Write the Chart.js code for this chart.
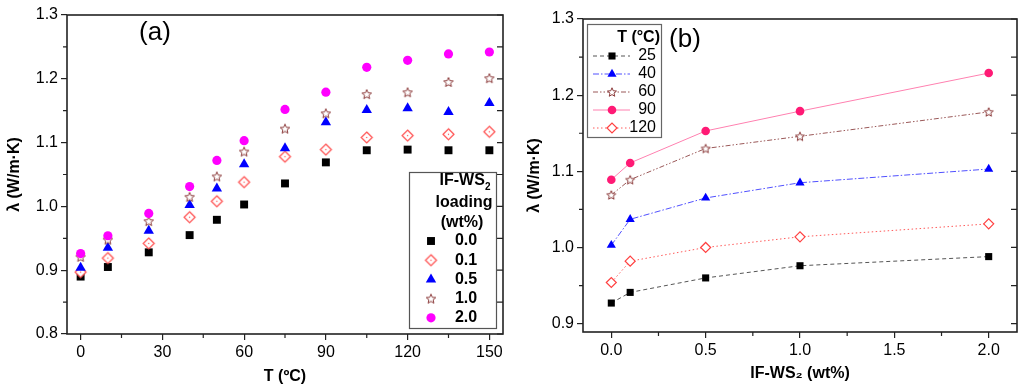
<!DOCTYPE html>
<html>
<head>
<meta charset="utf-8">
<script src="https://cdn.jsdelivr.net/npm/chart.js@4/dist/chart.umd.min.js"></script>
<style>
  html, body { margin: 0; padding: 0; background: #fff; }
  #wrap { position: relative; width: 1024px; height: 389px; }
  .panel { position: absolute; top: 0; height: 389px; }
</style>
</head>
<body>
<div id="wrap">
  <div class="panel" style="left:0;width:520px"><canvas id="chartA" width="520" height="389"></canvas></div>
  <div class="panel" style="left:520px;width:504px"><canvas id="chartB" width="504" height="389"></canvas></div>
</div>
<script>
// (a) conductivity vs temperature, one series per IF-WS2 loading
const tempsA = [0, 10, 25, 40, 50, 60, 75, 90, 105, 120, 135, 150];
const loadingLabels = ['0.0', '0.1', '0.5', '1.0', '2.0'];
const lambdaA00 = [0.890, 0.905, 0.928, 0.955, 0.979, 1.003, 1.036, 1.069, 1.088, 1.089, 1.088, 1.088];
const lambdaA01 = [0.897, 0.919, 0.942, 0.983, 1.008, 1.038, 1.078, 1.089, 1.108, 1.111, 1.113, 1.117];
const lambdaA05 = [0.904, 0.935, 0.962, 1.002, 1.028, 1.066, 1.091, 1.132, 1.151, 1.154, 1.148, 1.162];
const lambdaA10 = [0.921, 0.948, 0.977, 1.015, 1.047, 1.086, 1.122, 1.146, 1.176, 1.179, 1.195, 1.201];
const lambdaA20 = [0.926, 0.954, 0.989, 1.031, 1.072, 1.103, 1.152, 1.179, 1.218, 1.229, 1.239, 1.242];

// (b) conductivity vs loading, one series per temperature
const loadingsB = [0, 0.1, 0.5, 1.0, 2.0];
const tempLabels = ['25', '40', '60', '90', '120'];
const lambdaB25 = [0.927, 0.941, 0.960, 0.976, 0.988];
const lambdaB40 = [1.003, 1.037, 1.065, 1.085, 1.103];
const lambdaB60 = [1.069, 1.089, 1.130, 1.146, 1.178];
const lambdaB90 = [1.089, 1.111, 1.153, 1.179, 1.229];
const lambdaB120 = [0.954, 0.982, 1.000, 1.014, 1.031];

// tick values
const xTicksA = [0, 30, 60, 90, 120, 150];
const xMinorA = [15, 45, 75, 105, 135];
const yTicksA = [0.8, 0.9, 1.0, 1.1, 1.2, 1.3];
const yMinorA = [0.85, 0.95, 1.05, 1.15, 1.25];
const xTicksB = [0, 0.5, 1.0, 1.5, 2.0];
const xMinorB = [0.25, 0.75, 1.25, 1.75];
const yTicksB = [0.9, 1.0, 1.1, 1.2, 1.3];
const yMinorB = [0.95, 1.05, 1.15, 1.25];

const FONT = '"Liberation Sans", Arial, sans-serif';
Chart.defaults.font.family = FONT;
Chart.defaults.font.size = 16;
Chart.defaults.color = '#000';

const pts = (xs, ys) => xs.map((x, i) => ({ x, y: ys[i] }));

// open star / dotted diamond markers like the original plot
function makeStar(r, color) {
  const c = document.createElement('canvas');
  const s = Math.ceil(r * 2 + 4);
  c.width = c.height = s;
  const g = c.getContext('2d');
  g.translate(s / 2, s / 2 + r * 0.1);
  g.beginPath();
  for (let k = 0; k < 10; k++) {
    const rr = k % 2 ? r * 0.45 : r;
    const ang = -Math.PI / 2 + k * Math.PI / 5;
    g.lineTo(rr * Math.cos(ang), rr * Math.sin(ang));
  }
  g.closePath();
  g.fillStyle = '#fff';
  g.fill();
  g.strokeStyle = color;
  g.lineWidth = 1;
  g.stroke();
  return c;
}

function makeDiamond(r, color) {
  const c = document.createElement('canvas');
  const s = Math.ceil(r * 2 + 4);
  c.width = c.height = s;
  const g = c.getContext('2d');
  g.translate(s / 2, s / 2);
  g.beginPath();
  g.moveTo(0, -r); g.lineTo(r, 0); g.lineTo(0, r); g.lineTo(-r, 0);
  g.closePath();
  g.fillStyle = '#fff';
  g.fill();
  g.strokeStyle = color;
  g.lineWidth = 1.2;
  g.stroke();
  g.fillStyle = color;
  g.fillRect(-0.6, -0.6, 1.2, 1.2);
  return c;
}

const starA = makeStar(5, '#8B3A3A');
const diamondA = makeDiamond(5.5, '#FF4D4D');
const starB = makeStar(4.7, '#8B3A3A');

// frame + minor ticks + mirrored inward ticks on the right side
const framePlugin = {
  id: 'frame',
  afterDraw(chart, args, opts) {
    const { ctx, chartArea: a, scales: { x, y } } = chart;
    ctx.save();
    ctx.strokeStyle = '#222';
    ctx.lineWidth = 1.6;
    ctx.strokeRect(a.left, a.top, a.right - a.left, a.bottom - a.top);
    ctx.lineWidth = 1.2;
    ctx.beginPath();
    opts.yMinor.forEach(v => {
      const p = y.getPixelForValue(v);
      ctx.moveTo(a.left - 4, p); ctx.lineTo(a.left, p);
    });
    opts.yMinor.concat(opts.yMajor).forEach(v => {
      const p = y.getPixelForValue(v);
      ctx.moveTo(a.right - 6, p); ctx.lineTo(a.right, p);
    });
    opts.xMinor.forEach(v => {
      const p = x.getPixelForValue(v);
      ctx.moveTo(p, a.bottom); ctx.lineTo(p, a.bottom + 4);
    });
    ctx.stroke();
    if (opts.tag) {
      ctx.fillStyle = '#000';
      ctx.font = '26px ' + FONT;
      ctx.textAlign = 'center';
      ctx.textBaseline = 'middle';
      ctx.fillText(opts.tag, opts.tagX, opts.tagY);
    }
    ctx.restore();
  }
};

function drawMarker(ctx, ds, x, y) {
  ctx.fillStyle = ds.pointBackgroundColor;
  ctx.strokeStyle = ds.pointBorderColor;
  ctx.lineWidth = ds.pointBorderWidth;
  Chart.helpers.drawPoint(ctx, { pointStyle: ds.pointStyle, radius: ds.pointRadius, rotation: 0, borderWidth: ds.pointBorderWidth }, x, y);
}

const legendA = {
  id: 'legendA',
  afterDraw(chart) {
    const ctx = chart.ctx;
    ctx.save();
    ctx.strokeStyle = '#555';
    ctx.lineWidth = 1.2;
    ctx.strokeRect(409.5, 172.5, 87, 156);
    ctx.fillStyle = '#000';
    ctx.textBaseline = 'middle';
    ctx.font = 'bold 16px ' + FONT;
    const w1 = ctx.measureText('IF-WS').width;
    ctx.font = 'bold 10px ' + FONT;
    const w2 = ctx.measureText('2').width;
    const x0 = 465 - (w1 + w2) / 2;
    ctx.textAlign = 'left';
    ctx.font = 'bold 16px ' + FONT;
    ctx.fillText('IF-WS', x0, 181);
    ctx.font = 'bold 10px ' + FONT;
    ctx.fillText('2', x0 + w1, 187);
    ctx.font = 'bold 16px ' + FONT;
    ctx.textAlign = 'center';
    ctx.fillText('loading', 464, 203);
    ctx.fillText('(wt%)', 462, 223);
    chart.data.datasets.forEach((ds, i) => {
      const y = 241 + i * 19.2;
      drawMarker(ctx, ds, 431, y);
      ctx.fillStyle = '#000';
      ctx.fillText(ds.label, 466, y);
    });
    ctx.restore();
  }
};

const legendB = {
  id: 'legendB',
  afterDraw(chart) {
    const ctx = chart.ctx;
    ctx.save();
    ctx.strokeStyle = '#666';
    ctx.lineWidth = 1.2;
    ctx.strokeRect(67.5, 24.5, 74, 113);
    ctx.fillStyle = '#000';
    ctx.textBaseline = 'middle';
    ctx.textAlign = 'right';
    ctx.font = 'bold 16px ' + FONT;
    ctx.fillText('T (°C)', 140, 38);
    ctx.font = '16px ' + FONT;
    chart.data.datasets.forEach((ds, i) => {
      const y = 56 + i * 18;
      ctx.strokeStyle = ds.borderColor;
      ctx.lineWidth = ds.borderWidth;
      ctx.setLineDash(ds.borderDash || []);
      ctx.beginPath();
      ctx.moveTo(73, y); ctx.lineTo(110, y);
      ctx.stroke();
      ctx.setLineDash([]);
      drawMarker(ctx, ds, 92, y);
      ctx.fillStyle = '#000';
      ctx.fillText(ds.label, 136, y);
    });
    ctx.restore();
  }
};

const axisCommon = (fixed, horizontal) => ({
  type: 'linear',
  grid: { drawOnChartArea: false, drawTicks: true, tickLength: 6, color: '#222', lineWidth: 1.2 },
  border: { display: false },
  ticks: { autoSkip: false, maxRotation: 0, padding: 3, font: { size: 16 } },
  afterFit: s => { if (horizontal) s.height = fixed; else s.width = fixed; }
});

const seriesA = [lambdaA00, lambdaA01, lambdaA05, lambdaA10, lambdaA20];
const styleA = [
  { pointStyle: 'rect', pointRadius: 5.6, pointBackgroundColor: '#000', pointBorderColor: '#000', pointBorderWidth: 0 },
  { pointStyle: diamondA, pointRadius: 5.5, pointBackgroundColor: '#fff', pointBorderColor: '#FF4D4D', pointBorderWidth: 1.2 },
  { pointStyle: 'triangle', pointRadius: 6, pointBackgroundColor: '#0000FF', pointBorderColor: '#0000FF', pointBorderWidth: 0 },
  { pointStyle: starA, pointRadius: 5, pointBackgroundColor: '#fff', pointBorderColor: '#8B3A3A', pointBorderWidth: 1 },
  { pointStyle: 'circle', pointRadius: 4.6, pointBackgroundColor: '#FF00FF', pointBorderColor: '#FF00FF', pointBorderWidth: 0 }
];

new Chart(document.getElementById('chartA'), {
  type: 'scatter',
  data: {
    datasets: seriesA.map((ys, i) => Object.assign({
      label: loadingLabels[i],
      data: pts(tempsA, ys),
      showLine: false,
      order: -i,
      pointHoverRadius: styleA[i].pointRadius
    }, styleA[i]))
  },
  options: {
    responsive: false,
    animation: false,
    layout: { padding: { left: 0, top: 15, right: 17, bottom: 0 } },
    plugins: {
      legend: { display: false },
      tooltip: { enabled: false },
      frame: { xMinor: xMinorA, yMinor: yMinorA, yMajor: yTicksA, tag: '(a)', tagX: 155, tagY: 33 }
    },
    scales: {
      x: Object.assign(axisCommon(55, true), {
        min: -5, max: 155,
        afterBuildTicks: s => { s.ticks = xTicksA.map(v => ({ value: v })); },
        title: { display: true, text: 'T (ºC)', font: { size: 16, weight: 'bold' }, padding: 3 }
      }),
      y: Object.assign(axisCommon(67, false), {
        min: 0.8, max: 1.3,
        afterBuildTicks: s => { s.ticks = yTicksA.map(v => ({ value: v })); },
        title: { display: true, text: 'λ (W/m·K)', font: { size: 16, weight: 'bold' }, padding: 5 }
      })
    }
  },
  plugins: [framePlugin, legendA]
});
// tick label formats
Chart.getChart('chartA').options.scales.y.ticks.callback = v => v.toFixed(1);
Chart.getChart('chartA').update();

const seriesB = [lambdaB25, lambdaB40, lambdaB60, lambdaB90, lambdaB120];
const styleB = [
  { borderColor: '#555', borderDash: [4, 3], pointStyle: 'rect', pointRadius: 5, pointBackgroundColor: '#000', pointBorderColor: '#000', pointBorderWidth: 0 },
  { borderColor: '#5050FF', borderDash: [6, 2, 1.5, 2], pointStyle: 'triangle', pointRadius: 5.3, pointBackgroundColor: '#0000FF', pointBorderColor: '#0000FF', pointBorderWidth: 0 },
  { borderColor: '#9A5858', borderDash: [5, 2, 1.5, 2, 1.5, 2], pointStyle: starB, pointRadius: 4.7, pointBackgroundColor: '#fff', pointBorderColor: '#8B3A3A', pointBorderWidth: 1 },
  { borderColor: '#FF80B0', borderDash: [], pointStyle: 'circle', pointRadius: 4.3, pointBackgroundColor: '#FF1A75', pointBorderColor: '#FF1A75', pointBorderWidth: 0 },
  { borderColor: '#FF5A5A', borderDash: [1.5, 2.5], pointStyle: 'rectRot', pointRadius: 5, pointBackgroundColor: '#fff', pointBorderColor: '#FF4040', pointBorderWidth: 1.2 }
];

new Chart(document.getElementById('chartB'), {
  type: 'scatter',
  data: {
    datasets: seriesB.map((ys, i) => Object.assign({
      label: tempLabels[i],
      data: pts(loadingsB, ys),
      showLine: true,
      borderWidth: 1,
      tension: 0,
      order: -i
    }, styleB[i]))
  },
  options: {
    responsive: false,
    animation: false,
    layout: { padding: { left: 0, top: 19, right: 7, bottom: 0 } },
    plugins: {
      legend: { display: false },
      tooltip: { enabled: false },
      frame: { xMinor: xMinorB, yMinor: yMinorB, yMajor: yTicksB, tag: '(b)', tagX: 165, tagY: 40 }
    },
    scales: {
      x: Object.assign(axisCommon(57, true), {
        min: -0.15, max: 2.15,
        afterBuildTicks: s => { s.ticks = xTicksB.map(v => ({ value: v })); },
        title: { display: true, text: 'IF-WS₂ (wt%)', font: { size: 16, weight: 'bold' }, padding: 6 }
      }),
      y: Object.assign(axisCommon(63, false), {
        min: 0.889, max: 1.3,
        afterBuildTicks: s => { s.ticks = yTicksB.map(v => ({ value: v })); },
        title: { display: true, text: 'λ (W/m·K)', font: { size: 16, weight: 'bold' }, padding: 5 }
      })
    }
  },
  plugins: [framePlugin, legendB]
});
const chartB = Chart.getChart('chartB');
chartB.options.scales.x.ticks.callback = v => v.toFixed(1);
chartB.options.scales.y.ticks.callback = v => v.toFixed(1);
chartB.update();
</script>
</body>
</html>
